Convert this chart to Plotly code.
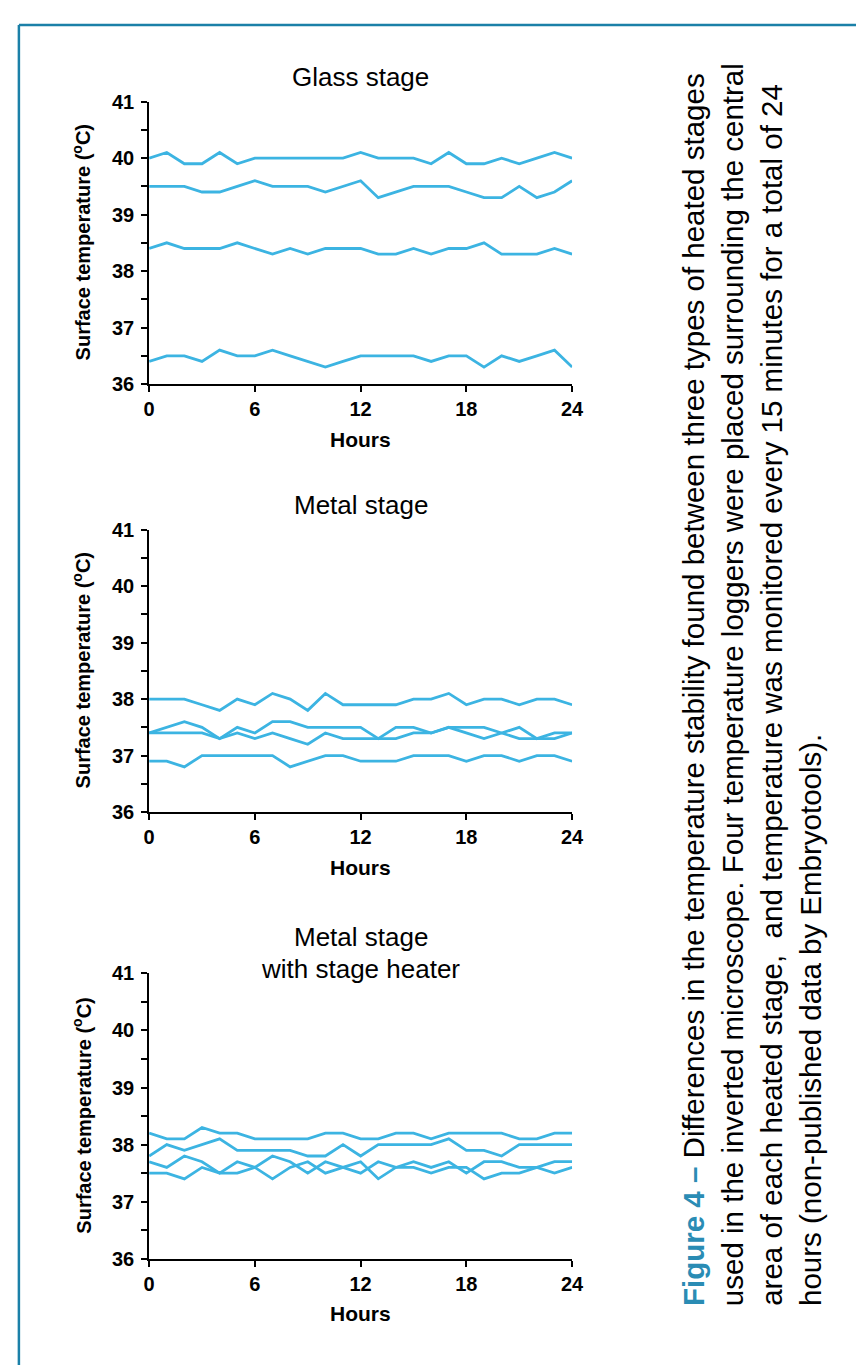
import plotly.graph_objects as go

# ---------------- data ----------------
hours = list(range(25))
x_ticks = [0, 6, 12, 18, 24]
y_ticks = [36, 37, 38, 39, 40, 41]
y_ticklabels = ["36", "37", "38", "39", "40", "41"]

glass_1 = [40.0, 40.1, 39.9, 39.9, 40.1, 39.9, 40.0, 40.0, 40.0, 40.0, 40.0, 40.0, 40.1,
           40.0, 40.0, 40.0, 39.9, 40.1, 39.9, 39.9, 40.0, 39.9, 40.0, 40.1, 40.0]
glass_2 = [39.5, 39.5, 39.5, 39.4, 39.4, 39.5, 39.6, 39.5, 39.5, 39.5, 39.4, 39.5, 39.6,
           39.3, 39.4, 39.5, 39.5, 39.5, 39.4, 39.3, 39.3, 39.5, 39.3, 39.4, 39.6]
glass_3 = [38.4, 38.5, 38.4, 38.4, 38.4, 38.5, 38.4, 38.3, 38.4, 38.3, 38.4, 38.4, 38.4,
           38.3, 38.3, 38.4, 38.3, 38.4, 38.4, 38.5, 38.3, 38.3, 38.3, 38.4, 38.3]
glass_4 = [36.4, 36.5, 36.5, 36.4, 36.6, 36.5, 36.5, 36.6, 36.5, 36.4, 36.3, 36.4, 36.5,
           36.5, 36.5, 36.5, 36.4, 36.5, 36.5, 36.3, 36.5, 36.4, 36.5, 36.6, 36.3]

metal_1 = [38.0, 38.0, 38.0, 37.9, 37.8, 38.0, 37.9, 38.1, 38.0, 37.8, 38.1, 37.9, 37.9,
           37.9, 37.9, 38.0, 38.0, 38.1, 37.9, 38.0, 38.0, 37.9, 38.0, 38.0, 37.9]
metal_2 = [37.4, 37.5, 37.6, 37.5, 37.3, 37.5, 37.4, 37.6, 37.6, 37.5, 37.5, 37.5, 37.5,
           37.3, 37.5, 37.5, 37.4, 37.5, 37.5, 37.5, 37.4, 37.3, 37.3, 37.3, 37.4]
metal_3 = [37.4, 37.4, 37.4, 37.4, 37.3, 37.4, 37.3, 37.4, 37.3, 37.2, 37.4, 37.3, 37.3,
           37.3, 37.3, 37.4, 37.4, 37.5, 37.4, 37.3, 37.4, 37.5, 37.3, 37.4, 37.4]
metal_4 = [36.9, 36.9, 36.8, 37.0, 37.0, 37.0, 37.0, 37.0, 36.8, 36.9, 37.0, 37.0, 36.9,
           36.9, 36.9, 37.0, 37.0, 37.0, 36.9, 37.0, 37.0, 36.9, 37.0, 37.0, 36.9]

heater_1 = [38.2, 38.1, 38.1, 38.3, 38.2, 38.2, 38.1, 38.1, 38.1, 38.1, 38.2, 38.2, 38.1,
            38.1, 38.2, 38.2, 38.1, 38.2, 38.2, 38.2, 38.2, 38.1, 38.1, 38.2, 38.2]
heater_2 = [37.8, 38.0, 37.9, 38.0, 38.1, 37.9, 37.9, 37.9, 37.9, 37.8, 37.8, 38.0, 37.8,
            38.0, 38.0, 38.0, 38.0, 38.1, 37.9, 37.9, 37.8, 38.0, 38.0, 38.0, 38.0]
heater_3 = [37.7, 37.6, 37.8, 37.7, 37.5, 37.7, 37.6, 37.8, 37.7, 37.5, 37.7, 37.6, 37.7,
            37.4, 37.6, 37.7, 37.6, 37.7, 37.5, 37.7, 37.7, 37.6, 37.6, 37.7, 37.7]
heater_4 = [37.5, 37.5, 37.4, 37.6, 37.5, 37.5, 37.6, 37.4, 37.6, 37.7, 37.5, 37.6, 37.5,
            37.7, 37.6, 37.6, 37.5, 37.6, 37.6, 37.4, 37.5, 37.5, 37.6, 37.5, 37.6]

panel_titles = [["Glass stage"], ["Metal stage"], ["Metal stage", "with stage heater"]]
panel_series = [[glass_1, glass_2, glass_3, glass_4],
                [metal_1, metal_2, metal_3, metal_4],
                [heater_1, heater_2, heater_3, heater_4]]

x_title = "Hours"
y_title = "Surface temperature (<sup>o</sup>C)"

caption_lines = [
    "<b><span style='color:#2a8cb4'>Figure 4 \u2013</span></b> Differences in the temperature stability found between three types of heated stages",
    "used in the inverted microscope. Four temperature loggers were placed surrounding the central",
    "area of each heated stage,  and temperature was monitored every 15 minutes for a total of 24",
    "hours (non-published data by Embryotools).",
]

# ---------------- layout helpers ----------------
W, H = 864, 1368
FONT = "Liberation Sans, Arial, sans-serif"
LINE_C = "#3cb4e2"
BORDER_C = "#1b80a8"

def px(x):
    return x / W

def py(y):
    return 1 - y / H

plot_left, plot_right = 138, 570
panel_tops = [84, 519, 970]
panel_bottoms = [371, 806, 1260]
title_y = [[59], [494], [933, 966]]
hours_y = [427, 862, 1316]
ytitle_x = 69

fig = go.Figure()
layout_axes = {}
annotations = []

for i, series in enumerate(panel_series):
    xa = "x" if i == 0 else f"x{i+1}"
    ya = "y" if i == 0 else f"y{i+1}"
    for s in series:
        fig.add_trace(go.Scatter(x=hours, y=s, mode="lines", xaxis=xa, yaxis=ya,
                                 line=dict(color=LINE_C, width=2.8),
                                 cliponaxis=False, showlegend=False, hoverinfo="x+y"))
    xkey = "xaxis" if i == 0 else f"xaxis{i+1}"
    ykey = "yaxis" if i == 0 else f"yaxis{i+1}"
    layout_axes[xkey] = dict(
        domain=[px(plot_left), px(plot_right)], anchor=ya, range=[0, 24],
        tickmode="array", tickvals=x_ticks, ticks="outside", ticklen=6, tickwidth=2,
        tickcolor="black", showline=True, linewidth=2, linecolor="black",
        showgrid=False, zeroline=False,
        tickfont=dict(family=FONT, size=20, color="black", weight="bold"),
    )
    layout_axes[ykey] = dict(
        domain=[py(panel_bottoms[i]), py(panel_tops[i])], anchor=xa, range=[36, 41],
        tickmode="array", tickvals=y_ticks, ticktext=y_ticklabels,
        ticks="outside", ticklen=6, tickwidth=2, tickcolor="black", ticklabelstandoff=3,
        minor=dict(dtick=0.5, tick0=36, ticks="outside", ticklen=6, tickwidth=2,
                   tickcolor="black", showgrid=False),
        showline=True, linewidth=2, linecolor="black", showgrid=False, zeroline=False,
        tickfont=dict(family=FONT, size=20, color="black", weight="bold"),
    )
    for t_text, t_y in zip(panel_titles[i], title_y[i]):
        annotations.append(dict(
            text=t_text, x=px((plot_left + plot_right) / 2), y=py(t_y),
            xref="paper", yref="paper", xanchor="center", yanchor="middle",
            showarrow=False, font=dict(family=FONT, size=26, color="black"),
        ))
    annotations.append(dict(
        text=f"<b>{x_title}</b>", x=px((plot_left + plot_right) / 2), y=py(hours_y[i]),
        xref="paper", yref="paper", xanchor="center", yanchor="middle",
        showarrow=False, font=dict(family=FONT, size=21, color="black"),
    ))
    annotations.append(dict(
        text=f"<b>{y_title}</b>", x=px(ytitle_x), y=py((panel_tops[i] + panel_bottoms[i]) / 2),
        xref="paper", yref="paper", xanchor="center", yanchor="middle", textangle=-90,
        showarrow=False, font=dict(family=FONT, size=20, color="black"),
    ))

cap_x = [694, 734, 774, 814]
for k, line in enumerate(caption_lines):
    annotations.append(dict(
        text=line, x=px(cap_x[k]), y=py(1310), xref="paper", yref="paper",
        xanchor="center", yanchor="bottom", textangle=-90, showarrow=False,
        font=dict(family=FONT, size=29.5, color="black"),
    ))

shapes = [
    dict(type="line", xref="paper", yref="paper", x0=px(5), x1=1, y0=py(6), y1=py(6),
         line=dict(color=BORDER_C, width=2.5)),
    dict(type="line", xref="paper", yref="paper", x0=px(5), x1=px(5), y0=py(6), y1=0,
         line=dict(color=BORDER_C, width=2.5)),
]

fig.update_layout(
    width=W, height=H, margin=dict(l=0, r=0, t=0, b=0),
    paper_bgcolor="white", plot_bgcolor="white",
    annotations=annotations, shapes=shapes, showlegend=False,
    **layout_axes,
)

fig.write_html("out.html")
